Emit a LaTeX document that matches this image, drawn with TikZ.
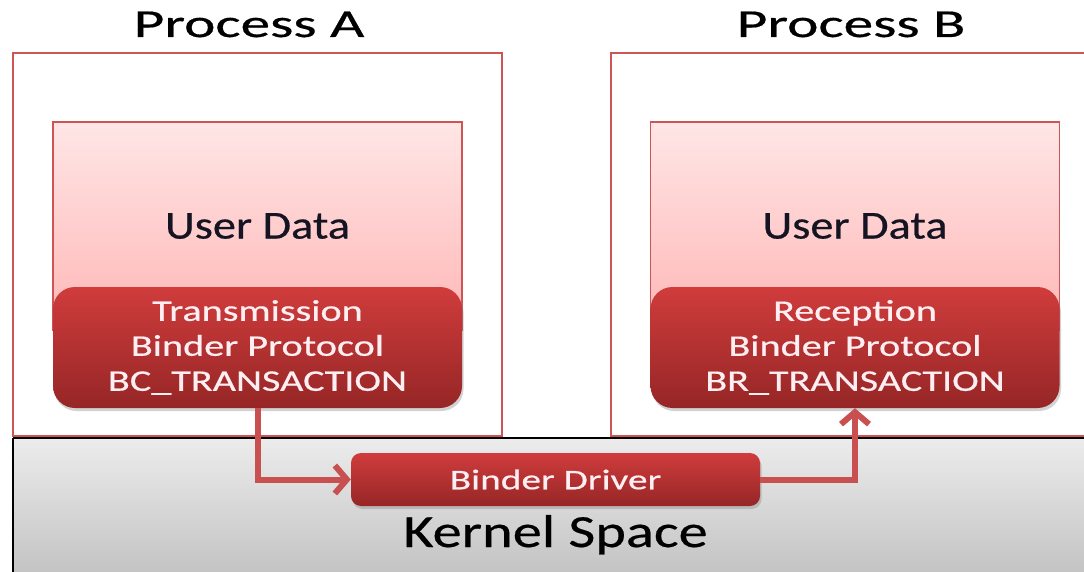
\documentclass[tikz,border=0pt]{standalone}
\usepackage{fontspec}
\setmainfont{Carlito}[FakeBold=0.45]
\usetikzlibrary{arrows.meta,shadows}
\definecolor{boxline}{RGB}{205,85,85}
\definecolor{pinktop}{RGB}{255,230,230}
\definecolor{pinkbot}{RGB}{255,182,182}
\definecolor{redtop}{RGB}{208,60,60}
\definecolor{redbot}{RGB}{150,38,38}
\definecolor{arrowc}{RGB}{200,80,80}
\definecolor{grtop}{RGB}{236,236,236}
\definecolor{grbot}{RGB}{188,188,188}
\definecolor{ltext}{RGB}{255,238,242}
\definecolor{dtext}{RGB}{20,20,35}
\newcommand{\wide}[2]{\scalebox{#1}[1]{#2}}
\begin{document}
\begin{tikzpicture}[x=1pt,y=-1pt,
  procbox/.style={draw=boxline,line width=2pt,fill=white,inner sep=0pt,minimum width=489pt,minimum height=383pt},
  userbox/.style={draw=boxline,line width=1.5pt,top color=pinktop,bottom color=pinkbot,inner sep=0pt,minimum width=409pt,minimum height=208pt,text=dtext,font=\fontsize{39.6}{42}\selectfont},
  protobox/.style={rounded corners=22pt,top color=redtop,bottom color=redbot,inner sep=0pt,minimum width=409pt,minimum height=121pt,align=center,text=ltext,font=\fontsize{30}{35}\selectfont,drop shadow={opacity=0.35,shadow xshift=1.5pt,shadow yshift=-3pt}},
  drvbox/.style={rounded corners=10pt,top color=redtop,bottom color=redbot,inner sep=0pt,minimum width=409pt,minimum height=53pt,text=ltext,font=\fontsize{28.5}{30}\selectfont,drop shadow={opacity=0.35,shadow xshift=1.5pt,shadow yshift=-3pt}},
  title/.style={anchor=base,text=black,font=\fontsize{39.6}{42}\selectfont,inner sep=0pt},
  flow/.style={draw=arrowc,line width=6pt,-{Straight Barb[length=12pt,width=28pt]}}
]
\useasboundingbox (0,0) rectangle (1084,572);
\clip (0,0) rectangle (1084,572);
\fill[white] (0,0) rectangle (1084,572);

\node[procbox] (procA) at (257.5,244.5) {};
\node[procbox] (procB) at (855.5,244.5) {};

\node[title] (titleA) at (249,37) {\wide{1.5}{Process A}};
\node[title] (titleB) at (851,37) {\wide{1.5}{Process B}};

\node[shading=axis,top color=grtop,bottom color=grbot,inner sep=0pt,minimum width=1087pt,minimum height=160pt] (kernel) at (556.5,518) {};
\draw[black,line width=1.5pt] (kernel.north west) -- (kernel.north east);
\draw[black,line width=1.5pt] (kernel.north west) -- (kernel.south west);

\node[userbox] (userA) at (257.5,226) {\raisebox{-3pt}{\wide{1.17}{User Data}}};
\node[userbox] (userB) at (855,226) {\raisebox{-3pt}{\wide{1.17}{User Data}}};

\node[protobox] (protoA) at (257.5,347.5) {\wide{1.34}{Transmission}\\ \wide{1.34}{Binder Protocol}\\ \wide{1.34}{BC\_TRANSACTION}};
\node[protobox] (protoB) at (855,347.5) {\wide{1.34}{Reception}\\ \wide{1.34}{Binder Protocol}\\ \wide{1.34}{BR\_TRANSACTION}};

\node[drvbox] (driver) at (555.5,479.5) {\wide{1.38}{Binder Driver}};

\node[anchor=base,text=black,font=\fontsize{46}{48}\selectfont,inner sep=0pt] (ktext) at (555.5,547) {\wide{1.27}{Kernel Space}};

\draw[flow] (protoA.south) |- (driver.west);
\draw[flow] (driver.east) -| (protoB.south);
\end{tikzpicture}
\end{document}
